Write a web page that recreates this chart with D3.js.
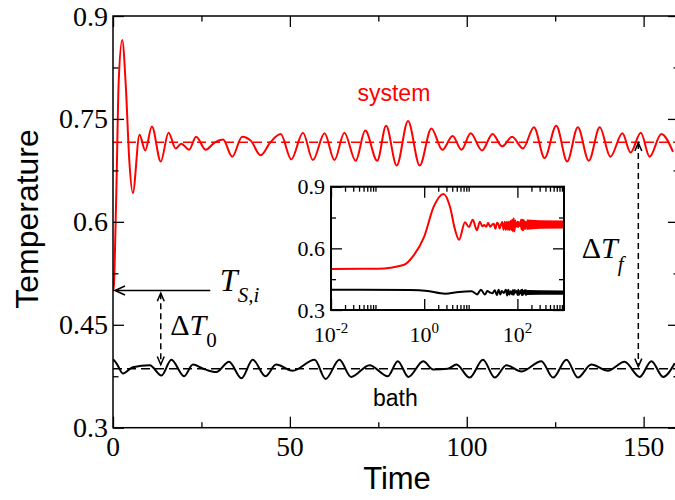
<!DOCTYPE html>
<html>
<head>
<meta charset="utf-8">
<script src="https://cdn.jsdelivr.net/npm/d3@7"></script>
<style>
body { margin: 0; background: #fff; }
</style>
</head>
<body>
<div id="viz_area"></div>
<script>
// system temperature, peaks and troughs
var sysTime = [0, 0.01, 0.1, 0.36, 0.6, 1.0, 1.6, 2.6, 3.6, 4.6, 5.6, 7.5, 9.1, 11.0, 13.5, 15.7, 17.7, 19.3, 21.5, 23.5,
	26.2, 28.8, 31.1, 33.7, 36.5, 39.0, 41.7, 44.5, 47.4, 50.4, 53.7, 56.5, 59.8, 62.6, 65.4, 68.6, 71.3, 74.7, 77.2,
	80.2, 83.4, 86.7, 90.0, 93.1, 96.0, 98.5, 101.1, 104.3, 107.3, 110.0, 112.8, 115.9, 119.0, 122.0, 125.3, 128.4,
	131.4, 134.5, 137.6, 140.6, 144.0, 146.3, 149.2, 151.7, 155.0, 158.3];
var sysTemp = [0.5, 0.5, 0.501, 0.519, 0.567, 0.657, 0.803, 0.865, 0.80, 0.69, 0.642, 0.727, 0.704, 0.739, 0.688, 0.730, 0.707, 0.714, 0.705, 0.724,
	0.705, 0.716, 0.720, 0.695, 0.724, 0.718, 0.697, 0.716, 0.728, 0.691, 0.730, 0.690, 0.729, 0.690, 0.730, 0.689, 0.733, 0.689, 0.740,
	0.682, 0.747, 0.682, 0.736, 0.705, 0.725, 0.705, 0.729, 0.704, 0.728, 0.710, 0.724, 0.707, 0.738, 0.693, 0.740, 0.688,
	0.738, 0.689, 0.738, 0.695, 0.729, 0.701, 0.730, 0.695, 0.728, 0.702];

// bath temperature
var bathTime = [0, 0.01, 0.5, 1.2, 2.8, 5.6, 10.4, 13.7, 16.5, 20.1, 22.6, 25.5, 29.2, 32.8, 36.3, 39.5, 43.1, 46.1, 50.8,
	57.0, 60.1, 64.0, 67.3, 72.5, 77.7, 80.5, 83.5, 87.7, 90.5, 94.7, 97.1, 100.8, 104.6, 107.9, 111.2, 115.5, 121.1,
	124.4, 128.2, 131.4, 135.2, 139.9, 144.6, 148.9, 152.2, 155.5, 158.8];
var bathTemp = [0.399, 0.399, 0.397, 0.392, 0.379, 0.388, 0.391, 0.376, 0.399, 0.375, 0.392, 0.386, 0.381, 0.396, 0.372, 0.399, 0.375, 0.392, 0.383,
	0.399, 0.371, 0.399, 0.374, 0.391, 0.375, 0.397, 0.374, 0.397, 0.385, 0.386, 0.392, 0.373, 0.399, 0.373, 0.391, 0.382, 0.397,
	0.373, 0.399, 0.373, 0.392, 0.383, 0.396, 0.374, 0.397, 0.374, 0.394];

// long-time band seen only in the inset
var bandTime = [158, 300, 1000];
var sysBandHi = [0.740, 0.737, 0.735];
var sysBandLo = [0.690, 0.695, 0.697];
var bathBandHi = [0.397, 0.396, 0.395];
var bathBandLo = [0.373, 0.374, 0.374];

var sysMean = 0.716;
var bathMean = 0.386;

var xTicks = [0, 50, 100, 150];
var xMinor = [25, 75, 125];
var yTicks = [0.3, 0.45, 0.6, 0.75, 0.9];
var yMinor = [0.375, 0.525, 0.675, 0.825];
var insetXTicks = [0.01, 1, 100];
var insetXLabels = ["-2", "0", "2"];
var insetYTicks = [0.3, 0.6, 0.9];
var insetYMinor = [0.45, 0.75];

var serif = "'Liberation Serif', 'Times New Roman', serif";
var sans = "'Liberation Sans', Arial, sans-serif";

function __init__() {
	drawChart();
}

function frameAxes(svg, x, y, opt) {
	var x0 = x.range()[0], x1 = x.range()[1];
	var y0 = y.range()[0], y1 = y.range()[1];

	// four sides, ticks pointing inward
	var sides = [
		[d3.axisBottom(x), "translate(0," + y0 + ")", opt.xMajor, opt.xMinor],
		[d3.axisTop(x), "translate(0," + y1 + ")", opt.xMajor, opt.xMinor],
		[d3.axisLeft(y), "translate(" + x0 + ",0)", opt.yMajor, opt.yMinor],
		[d3.axisRight(y), "translate(" + x1 + ",0)", opt.yMajor, opt.yMinor]
	];
	sides.forEach(function(s) {
		var gMaj = svg.append("g").attr("transform", s[1])
			.call(s[0].tickValues(s[2]).tickSizeInner(-opt.major).tickSizeOuter(0).tickFormat(""));
		gMaj.select(".domain").remove();
		var gMin = svg.append("g").attr("transform", s[1])
			.call(s[0].tickValues(s[3]).tickSizeInner(-opt.minor).tickSizeOuter(0).tickFormat(""));
		gMin.select(".domain").remove();
		svg.selectAll(".tick line").attr("stroke", "#000").attr("stroke-width", 1.3);
	});

	svg.append("rect")
		.attr("x", x0).attr("y", y1)
		.attr("width", x1 - x0).attr("height", y0 - y1)
		.attr("fill", "none")
		.attr("stroke", "#000")
		.attr("stroke-width", opt.frame);
}

function arrowHead(g, px, py, dx, dy, len, half) {
	// dx,dy = unit direction the arrow points to
	var bx = px - dx * len, by = py - dy * len;
	g.append("path")
		.attr("d", "M" + (bx - dy * half) + "," + (by + dx * half) + "L" + px + "," + py + "L" + (bx + dy * half) + "," + (by - dx * half))
		.attr("fill", "none")
		.attr("stroke", "#000")
		.attr("stroke-width", 1.5);
}

function drawChart() {
	var w = 675;
	var h = 500;

	var svg = d3.select("#viz_area")
		.append("svg")
		.attr("width", w)
		.attr("height", h);

	var x = d3.scaleLinear().domain([0, 160]).range([113, 679]);
	var y = d3.scaleLinear().domain([0.3, 0.9]).range([427.7, 16]);

	var sysData = sysTime.map((t, i) => ({t: t, v: sysTemp[i]}));
	var bathData = bathTime.map((t, i) => ({t: t, v: bathTemp[i]}));

	svg.append("clipPath").attr("id", "mainClip")
		.append("rect")
		.attr("x", 113).attr("y", 16)
		.attr("width", 679 - 113).attr("height", 427.7 - 16);

	var plot = svg.append("g").attr("clip-path", "url(#mainClip)");

	// dashed averages
	[[sysMean, "red"], [bathMean, "#000"]].forEach(function(m) {
		plot.append("line")
			.attr("x1", x(0)).attr("x2", x(160))
			.attr("y1", y(m[0])).attr("y2", y(m[0]))
			.attr("stroke", m[1])
			.attr("stroke-width", 1.5)
			.attr("stroke-dasharray", "9,5");
	});

	var line = d3.line()
		.x((d) => x(d.t))
		.y((d) => y(d.v))
		.curve(d3.curveMonotoneX);

	plot.append("path").datum(bathData)
		.attr("d", line)
		.attr("fill", "none").attr("stroke", "#000").attr("stroke-width", 2);
	plot.append("path").datum(sysData)
		.attr("d", line)
		.attr("fill", "none").attr("stroke", "red").attr("stroke-width", 2);

	frameAxes(svg, x, y, {xMajor: xTicks, xMinor: xMinor, yMajor: yTicks, yMinor: yMinor, major: 11, minor: 5.5, frame: 1.5});

	// tick labels
	svg.append("g").selectAll("text")
		.data(xTicks)
		.enter()
		.append("text")
		.attr("x", (d) => x(d))
		.attr("y", 456)
		.attr("text-anchor", "middle")
		.style("font-family", serif)
		.style("font-size", "27.5px")
		.text((d) => d);

	svg.append("g").selectAll("text")
		.data(yTicks)
		.enter()
		.append("text")
		.attr("x", 108)
		.attr("y", (d) => y(d) + 9.5)
		.attr("text-anchor", "end")
		.style("font-family", serif)
		.style("font-size", "28px")
		.text((d) => d3.format("")(d));

	svg.append("text")
		.attr("transform", "translate(38," + 219 + ") rotate(-90)")
		.attr("text-anchor", "middle")
		.style("font-family", sans)
		.style("font-size", "32px")
		.text("Temperature");

	svg.append("text")
		.attr("x", 397).attr("y", 489)
		.attr("text-anchor", "middle")
		.style("font-family", sans)
		.style("font-size", "31px")
		.text("Time");

	svg.append("text")
		.attr("x", x(79.4)).attr("y", y(0.776))
		.attr("text-anchor", "middle")
		.style("font-family", sans)
		.style("font-size", "23px")
		.attr("fill", "red")
		.text("system");

	svg.append("text")
		.attr("x", x(79.8)).attr("y", y(0.332))
		.attr("text-anchor", "middle")
		.style("font-family", sans)
		.style("font-size", "23px")
		.text("bath");

	// annotations
	var ann = svg.append("g");

	ann.append("line")
		.attr("x1", x(0) + 2).attr("x2", x(27.5))
		.attr("y1", y(0.5)).attr("y2", y(0.5))
		.attr("stroke", "#000").attr("stroke-width", 1.5);
	arrowHead(ann, x(0) + 2, y(0.5), -1, 0, 10, 4.5);

	var ts = ann.append("text")
		.attr("x", x(30.2)).attr("y", y(0.5) + 1)
		.style("font-family", serif)
		.style("font-size", "32px");
	ts.append("tspan").style("font-style", "italic").text("T");
	ts.append("tspan").style("font-style", "italic").style("font-size", "21px").attr("dy", 11).text("S,i");

	[[13.5, 0.496, 0.392], [148.5, 0.715, 0.389]].forEach(function(a) {
		ann.append("line")
			.attr("x1", x(a[0])).attr("x2", x(a[0]))
			.attr("y1", y(a[1])).attr("y2", y(a[2]))
			.attr("stroke", "#000").attr("stroke-width", 1.5)
			.attr("stroke-dasharray", "6,4");
		arrowHead(ann, x(a[0]), y(a[1]), 0, -1, 8, 3.5);
		arrowHead(ann, x(a[0]), y(a[2]), 0, 1, 8, 3.5);
	});

	var d0 = ann.append("text")
		.attr("x", x(16.2)).attr("y", y(0.435))
		.style("font-family", serif)
		.style("font-size", "30px");
	d0.append("tspan").text("\u0394");
	d0.append("tspan").style("font-style", "italic").text("T");
	d0.append("tspan").style("font-size", "21px").attr("dy", 12).text("0");

	var df = ann.append("text")
		.attr("x", x(132.5)).attr("y", y(0.547))
		.style("font-family", serif)
		.style("font-size", "30px");
	df.append("tspan").text("\u0394");
	df.append("tspan").style("font-style", "italic").text("T");
	df.append("tspan").style("font-style", "italic").style("font-size", "21px").attr("dy", 13).text("f");

	drawInset(svg, sysData, bathData);
}

function drawInset(svg, sysData, bathData) {
	var xi = d3.scaleLog().domain([0.01, 1000]).range([331, 564]);
	var yi = d3.scaleLinear().domain([0.3, 0.9]).range([310, 186.7]);

	svg.append("rect")
		.attr("x", 331).attr("y", 186.7)
		.attr("width", 564 - 331).attr("height", 310 - 186.7)
		.attr("fill", "#fff");

	svg.append("clipPath").attr("id", "insetClip")
		.append("rect")
		.attr("x", 331).attr("y", 186.7)
		.attr("width", 564 - 331).attr("height", 310 - 186.7);

	var g = svg.append("g").attr("clip-path", "url(#insetClip)");

	var line = d3.line()
		.x((d) => xi(d.t))
		.y((d) => yi(d.v))
		.curve(d3.curveMonotoneX);

	var band = d3.area()
		.x((d) => xi(d.t))
		.y0((d) => yi(d.lo))
		.y1((d) => yi(d.hi));

	var sysBand = bandTime.map((t, i) => ({t: t, hi: sysBandHi[i], lo: sysBandLo[i]}));
	var bathBand = bandTime.map((t, i) => ({t: t, hi: bathBandHi[i], lo: bathBandLo[i]}));

	g.append("path").datum(bathBand).attr("d", band).attr("fill", "#000");
	g.append("path").datum(bathData.filter((d) => d.t > 0))
		.attr("d", line)
		.attr("fill", "none").attr("stroke", "#000").attr("stroke-width", 2);

	g.append("path").datum(sysBand).attr("d", band).attr("fill", "red");
	g.append("path").datum(sysData.filter((d) => d.t > 0))
		.attr("d", line)
		.attr("fill", "none").attr("stroke", "red").attr("stroke-width", 2);

	var minorX = [];
	[0.01, 1, 100].forEach(function(dec) {
		for (var k = 2; k <= 9; k++) minorX.push(k * dec);
	});

	frameAxes(svg, xi, yi, {xMajor: insetXTicks, xMinor: minorX, yMajor: insetYTicks, yMinor: insetYMinor, major: 11, minor: 5, frame: 2});

	svg.append("g").selectAll("text")
		.data(insetYTicks)
		.enter()
		.append("text")
		.attr("x", 325)
		.attr("y", (d) => yi(d) + 7.5)
		.attr("text-anchor", "end")
		.style("font-family", serif)
		.style("font-size", "22px")
		.text((d) => d);

	var lab = svg.append("g").selectAll("text")
		.data(insetXTicks)
		.enter()
		.append("text")
		.attr("x", (d) => xi(d))
		.attr("y", 342)
		.attr("text-anchor", "middle")
		.style("font-family", serif)
		.style("font-size", "22px");
	lab.append("tspan").text("10");
	lab.append("tspan")
		.attr("dy", -9)
		.style("font-size", "15px")
		.text((d, i) => insetXLabels[i]);
}

window.onload = __init__;
</script>
</body>
</html>
